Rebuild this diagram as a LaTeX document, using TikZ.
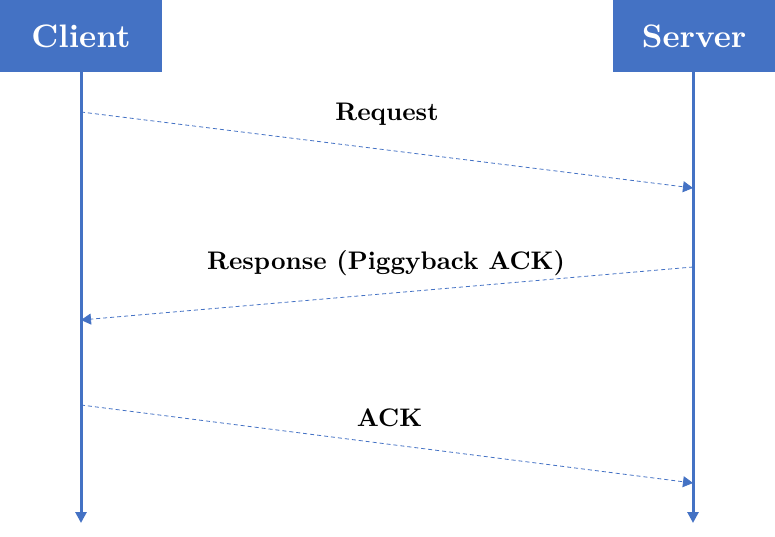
\documentclass[tikz,border=0pt]{standalone}
\usepackage{fontspec}
\newfontfamily\headfont{lmroman10-bold.otf}
\usetikzlibrary{arrows.meta}
\definecolor{office}{HTML}{4472C4}
\begin{document}
\begin{tikzpicture}[x=1pt,y=-1pt]

\tikzset{host/.style={fill=office,inner sep=0pt,minimum width=162pt,minimum height=72.5pt}}
\tikzset{hostname/.style={anchor=base,text=white,inner sep=0pt,font=\fontsize{32.5}{36}\headfont}}
\tikzset{life/.style={draw=office,line width=3pt,-{Triangle[length=11pt,width=11pt]}}}
\tikzset{msg/.style={draw=office,line width=0.8pt,dash pattern=on 4pt off 3pt,-{Triangle[length=10pt,width=11pt]}}}
\tikzset{lbl/.style={anchor=base,inner sep=0pt,font=\fontsize{25.4}{28}\headfont}}

\useasboundingbox (0,0) rectangle (775,537);

\node[host] (client) at (81,36.25) {};
\node[host] (server) at (694,36.25) {};
\node[hostname] (clientname) at (81,47.5) {Client};
\node[hostname] (servername) at (694,47.5) {Server};

\coordinate (c0) at (81,72.5);
\coordinate (s0) at (693,72.5);
\coordinate (c9) at (81,523);
\coordinate (s9) at (693,523);
\draw[life] (c0) to (c9);
\draw[life] (s0) to (s9);

\coordinate (c1) at (81,112);
\coordinate (s1) at (693,188);
\coordinate (s2) at (693,267);
\coordinate (c2) at (81,320);
\coordinate (c3) at (81,405);
\coordinate (s3) at (693,483);

\draw[msg] (c1) to (s1);
\draw[msg] (s2) to (c2);
\draw[msg] (c3) to (s3);

\node[lbl] (req) at (387,120.5) {Request};
\node[lbl] (resp) at (386,269) {Response (Piggyback ACK)};
\node[lbl] (ack) at (389.5,426) {ACK};

\end{tikzpicture}
\end{document}
